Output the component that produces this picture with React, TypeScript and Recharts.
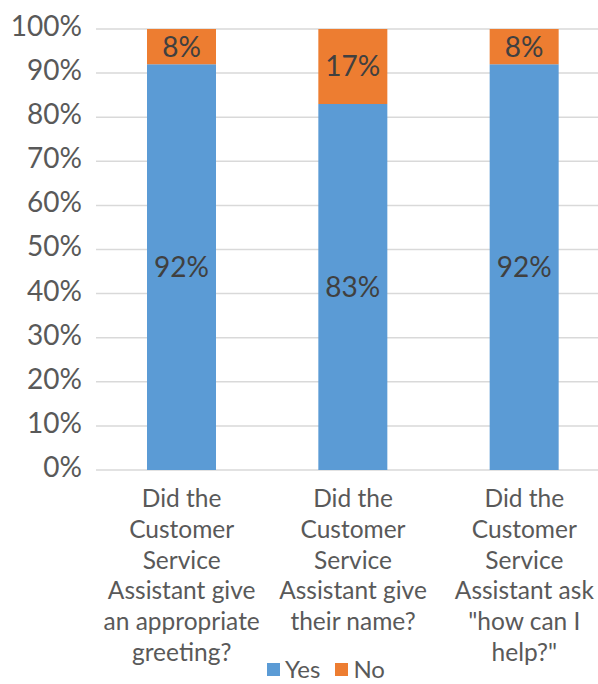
import React from 'react';
import { BarChart, Bar, XAxis, YAxis, CartesianGrid, Legend, LabelList } from 'recharts';

const questions = [
  ['Did the', 'Customer', 'Service', 'Assistant give', 'an appropriate', 'greeting?'],
  ['Did the', 'Customer', 'Service', 'Assistant give', 'their name?'],
  ['Did the', 'Customer', 'Service', 'Assistant ask', '"how can I', 'help?"'],
];
const yesValues = [92, 83, 92];
const noValues = [8, 17, 8];
const yTicks = [0, 10, 20, 30, 40, 50, 60, 70, 80, 90, 100];

const data = questions.map((lines, i) => ({
  question: lines.join(' '),
  yes: yesValues[i],
  no: noValues[i],
}));

const FONT = 'Lato, "Noto Sans", sans-serif';

const QuestionTick = (props: any) => {
  const { x, y, index } = props;
  const lines = questions[index] || [];
  return (
    <text x={x} y={y} textAnchor="middle" fill="#595959" fontSize={24.5} fontFamily={FONT}>
      {lines.map((line, i) => (
        <tspan key={i} x={x} dy={i === 0 ? 29 : 30.8}>
          {line}
        </tspan>
      ))}
    </text>
  );
};

const LegendBox = () => (
  <div
    style={{
      display: 'flex',
      justifyContent: 'center',
      alignItems: 'center',
      height: 30,
      fontSize: 24,
      lineHeight: '30px',
      color: '#595959',
      fontFamily: FONT,
    }}
  >
    <span style={{ width: 13, height: 13, background: '#5B9BD5', marginRight: 5 }} />
    <span style={{ marginRight: 15 }}>Yes</span>
    <span style={{ width: 13, height: 13, background: '#ED7D31', marginRight: 5 }} />
    <span>No</span>
  </div>
);

const App: React.FC = () => {
  return (
    <div style={{ position: 'fixed', left: 0, top: 0, width: 598, height: 684, overflow: 'hidden', background: '#fff' }}>
      <BarChart
        width={652}
        height={684}
        data={data}
        margin={{ top: 29, right: 42, bottom: 0, left: 0 }}
      >
        <CartesianGrid vertical={false} stroke="#d9d9d9" strokeWidth={1.5} />
        <XAxis
          dataKey="question"
          axisLine={false}
          tickLine={false}
          height={184}
          interval={0}
          tick={<QuestionTick />}
        />
        <YAxis
          width={96}
          domain={[0, 100]}
          ticks={yTicks}
          axisLine={false}
          tickLine={false}
          tickMargin={8}
          tickFormatter={(v: number) => `${v}%`}
          tick={{ fill: '#595959', fontSize: 28, fontFamily: FONT, dy: -3 }}
        />
        <Legend verticalAlign="bottom" content={<LegendBox />} wrapperStyle={{ left: 0, width: 652 }} />
        <Bar dataKey="yes" name="Yes" stackId="a" fill="#5B9BD5" barSize={69} isAnimationActive={false}>
          <LabelList
            dataKey="yes"
            position="center"
            formatter={(v: any) => `${v}%`}
            fill="#404040"
            fontSize={28}
            fontFamily={FONT}
          />
        </Bar>
        <Bar dataKey="no" name="No" stackId="a" fill="#ED7D31" barSize={69} isAnimationActive={false}>
          <LabelList
            dataKey="no"
            position="center"
            formatter={(v: any) => `${v}%`}
            fill="#404040"
            fontSize={28}
            fontFamily={FONT}
          />
        </Bar>
      </BarChart>
    </div>
  );
};

export default App;
